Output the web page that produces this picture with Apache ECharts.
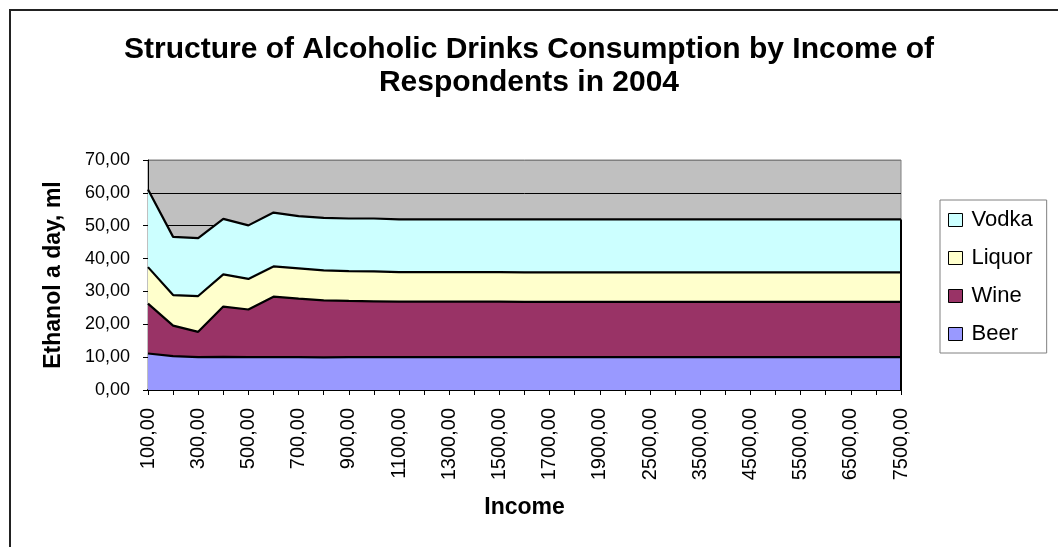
<!DOCTYPE html>
<html>
<head>
<meta charset="utf-8">
<script src="https://cdn.jsdelivr.net/npm/echarts@6/dist/echarts.min.js"></script>
<style>
  html, body { margin: 0; padding: 0; background: #ffffff; }
  #chart { width: 1058px; height: 547px; }
</style>
</head>
<body>
<div id="chart"></div>
<script>
// Monthly income groups of respondents
const incomes = [100, 200, 300, 400, 500, 600, 700, 800, 900, 1000,
  1100, 1200, 1300, 1400, 1500, 1600, 1700, 1800, 1900, 2000,
  2500, 3000, 3500, 4000, 4500, 5000, 5500, 6000, 6500, 7000, 7500];

// Ethanol a day, ml, by drink type
const beer = [11.1, 10.3, 10.0, 10.1, 10.0, 10.0, 10.0, 9.9, 10.0, 10.0,
  10.0, 10.0, 10.0, 10.0, 10.0, 10.0, 10.0, 10.0, 10.0, 10.0,
  10.0, 10.0, 10.0, 10.0, 10.0, 10.0, 10.0, 10.0, 10.0, 10.0, 10.0];
const wine = [15.2, 9.3, 7.7, 15.3, 14.5, 18.4, 17.8, 17.4, 17.1, 17.0,
  16.9, 16.9, 16.9, 16.9, 16.9, 16.8, 16.8, 16.8, 16.8, 16.8,
  16.8, 16.8, 16.8, 16.8, 16.8, 16.8, 16.8, 16.8, 16.8, 16.8, 16.8];
const liquor = [11.1, 9.3, 10.9, 9.8, 9.3, 9.2, 9.2, 9.1, 9.1, 9.1,
  9.0, 9.0, 9.0, 9.0, 9.0, 9.0, 9.0, 9.0, 9.0, 9.0,
  9.0, 9.0, 9.0, 9.0, 9.0, 9.0, 9.0, 9.0, 9.0, 9.0, 9.0];
const vodka = [23.6, 17.7, 17.6, 16.9, 16.3, 16.4, 15.9, 16.0, 16.0, 16.1,
  16.0, 16.0, 16.0, 16.0, 16.0, 16.1, 16.1, 16.1, 16.1, 16.1,
  16.1, 16.1, 16.1, 16.1, 16.1, 16.1, 16.1, 16.1, 16.1, 16.1, 16.1];

const yTicks = [0, 10, 20, 30, 40, 50, 60, 70];

const FONT = "'Liberation Sans', Arial, sans-serif";
const fmt = v => Number(v).toFixed(2).replace('.', ',');

// Total of the stack at the last income group, for the closing edge of the areas
const last = incomes.length - 1;
const lastTotal = beer[last] + wine[last] + liquor[last] + vodka[last];

const chart = echarts.init(document.getElementById('chart'), null, { renderer: 'canvas' });

function areaSeries(name, data, color, extra) {
  return Object.assign({
    name: name,
    type: 'line',
    stack: 'total',
    data: data,
    symbol: 'none',
    smooth: false,
    lineStyle: { color: '#000000', width: 2.2 },
    areaStyle: { color: color, opacity: 1 },
    itemStyle: { color: color, borderColor: '#000000', borderWidth: 1 },
    emphasis: { disabled: true }
  }, extra || {});
}

chart.setOption({
  animation: false,
  backgroundColor: '#ffffff',
  textStyle: { fontFamily: FONT, color: '#000000' },
  graphic: [{
    type: 'rect',
    shape: { x: 10, y: 10, width: 1100, height: 600 },
    style: { fill: 'none', stroke: '#222222', lineWidth: 2 },
    silent: true
  }],
  title: {
    text: 'Structure of Alcoholic Drinks Consumption by Income of\nRespondents in 2004',
    left: 'center',
    top: 33,
    padding: [0, 0, 0, 12],
    textStyle: {
      fontFamily: FONT, fontSize: 30, fontWeight: 'bold',
      color: '#000000', lineHeight: 33, align: 'center'
    }
  },
  legend: {
    orient: 'vertical',
    left: 940,
    top: 200,
    padding: [9, 14, 8, 8],
    itemGap: 16,
    itemWidth: 14,
    itemHeight: 13,
    icon: 'rect',
    backgroundColor: '#ffffff',
    borderColor: '#808080',
    borderWidth: 1,
    borderRadius: 0,
    selectedMode: false,
    data: ['Vodka', 'Liquor', 'Wine', 'Beer'],
    textStyle: { fontFamily: FONT, fontSize: 22, color: '#000000', padding: [0, 0, 0, 4] },
    itemStyle: { borderColor: '#000000', borderWidth: 1 }
  },
  grid: {
    left: 148, right: 157, top: 160, bottom: 157,
    show: true,
    backgroundColor: '#C0C0C0',
    borderColor: '#808080',
    borderWidth: 1
  },
  xAxis: {
    type: 'category',
    data: incomes,
    boundaryGap: false,
    name: 'Income',
    nameLocation: 'middle',
    nameGap: 106,
    nameMoveOverlap: false,
    nameTextStyle: { fontFamily: FONT, fontSize: 23, fontWeight: 'bold', color: '#000000', verticalAlign: 'top' },
    axisLine: { show: true, lineStyle: { color: '#000000', width: 2 } },
    axisTick: { show: true, interval: 0, length: 5, lineStyle: { color: '#000000', width: 1 } },
    axisLabel: {
      interval: 1, rotate: 90, margin: 18,
      fontFamily: FONT, fontSize: 20, color: '#000000',
      formatter: v => fmt(v)
    },
    splitLine: { show: false }
  },
  yAxis: {
    type: 'value',
    min: yTicks[0],
    max: yTicks[yTicks.length - 1],
    interval: 10,
    name: 'Ethanol a day, ml',
    nameLocation: 'middle',
    nameGap: 83,
    nameMoveOverlap: false,
    nameTextStyle: { fontFamily: FONT, fontSize: 23, fontWeight: 'bold', color: '#000000' },
    axisLine: { show: true, lineStyle: { color: '#000000', width: 1 } },
    axisTick: { show: true, length: 5, lineStyle: { color: '#000000', width: 1 } },
    axisLabel: {
      margin: 18, fontFamily: FONT, fontSize: 18, color: '#000000',
      formatter: v => fmt(v)
    },
    splitLine: {
      show: true,
      lineStyle: {
        color: ['#000000', '#000000', '#000000', '#000000', '#000000', '#000000', '#000000', '#808080'],
        width: 1
      }
    }
  },
  series: [
    areaSeries('Beer', beer, '#9999FF'),
    areaSeries('Wine', wine, '#993366'),
    areaSeries('Liquor', liquor, '#FFFFCC'),
    areaSeries('Vodka', vodka, '#CCFFFF', {
      markLine: {
        silent: true,
        symbol: ['none', 'none'],
        label: { show: false },
        lineStyle: { color: '#000000', width: 2, type: 'solid' },
        data: [[{ coord: [last, 0] }, { coord: [last, lastTotal] }]]
      }
    })
  ]
});
</script>
</body>
</html>
